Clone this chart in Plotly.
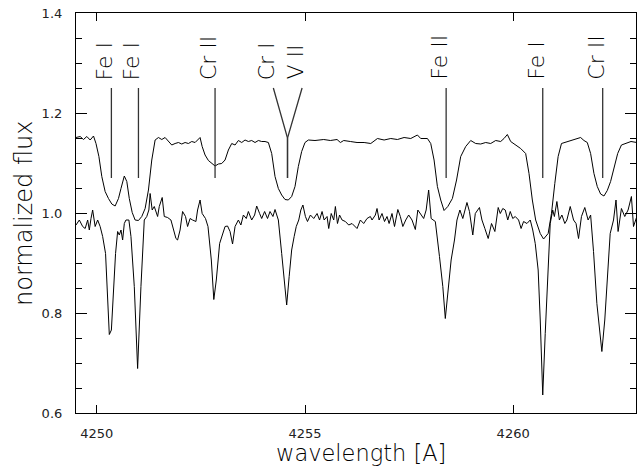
import plotly.graph_objects as go

# ---- lower (observed, noisy) spectrum ----
obs_wave = [4249.50, 4249.58, 4249.66, 4249.72, 4249.78, 4249.82, 4249.86, 4249.90, 4249.96, 4250.02,
            4250.08, 4250.14, 4250.21, 4250.26, 4250.30, 4250.35, 4250.40, 4250.45, 4250.50, 4250.54,
            4250.58, 4250.62, 4250.66, 4250.70, 4250.77, 4250.82, 4250.90, 4250.98, 4251.06, 4251.14,
            4251.20, 4251.25, 4251.28, 4251.33, 4251.38, 4251.42, 4251.46, 4251.50, 4251.57, 4251.62,
            4251.70, 4251.78, 4251.84, 4251.90, 4251.94, 4252.00, 4252.06, 4252.13, 4252.18, 4252.24,
            4252.30, 4252.38, 4252.42, 4252.48, 4252.53, 4252.61, 4252.67, 4252.75, 4252.81, 4252.87,
            4252.95, 4253.03, 4253.08, 4253.14, 4253.20, 4253.26, 4253.32, 4253.40, 4253.46, 4253.52,
            4253.59, 4253.64, 4253.72, 4253.79, 4253.84, 4253.91, 4253.96, 4254.03, 4254.10, 4254.16,
            4254.23, 4254.28, 4254.36, 4254.44, 4254.51, 4254.56, 4254.62, 4254.68, 4254.74, 4254.79,
            4254.85, 4254.90, 4254.95, 4255.01, 4255.06, 4255.13, 4255.21, 4255.29, 4255.35, 4255.41,
            4255.46, 4255.53, 4255.57, 4255.63, 4255.69, 4255.73, 4255.78, 4255.83, 4255.89, 4255.97,
            4256.05, 4256.13, 4256.25, 4256.33, 4256.41, 4256.49, 4256.57, 4256.61, 4256.69, 4256.73,
            4256.78, 4256.85, 4256.91, 4256.97, 4257.02, 4257.09, 4257.15, 4257.23, 4257.29, 4257.35,
            4257.42, 4257.49, 4257.57, 4257.65, 4257.71, 4257.77, 4257.85, 4257.91, 4257.97, 4258.03,
            4258.13, 4258.23, 4258.31, 4258.37, 4258.43, 4258.51, 4258.59, 4258.65, 4258.72, 4258.79,
            4258.89, 4258.95, 4259.03, 4259.09, 4259.19, 4259.25, 4259.32, 4259.40, 4259.48, 4259.56,
            4259.64, 4259.69, 4259.75, 4259.81, 4259.87, 4259.93, 4259.99, 4260.05, 4260.13, 4260.19,
            4260.25, 4260.33, 4260.41, 4260.47, 4260.53, 4260.60, 4260.65, 4260.71, 4260.77, 4260.83,
            4260.89, 4260.95, 4260.99, 4261.05, 4261.11, 4261.17, 4261.24, 4261.29, 4261.37, 4261.45,
            4261.51, 4261.57, 4261.64, 4261.72, 4261.80, 4261.86, 4261.93, 4262.01, 4262.08, 4262.13,
            4262.20, 4262.25, 4262.33, 4262.41, 4262.47, 4262.52, 4262.60, 4262.68, 4262.76, 4262.84,
            4262.89, 4262.97]
obs_flux = [0.976, 0.986, 0.973, 0.969, 0.986, 0.966, 0.989, 1.006, 0.973, 0.986,
            0.973, 0.953, 0.919, 0.839, 0.757, 0.766, 0.853, 0.919, 0.963, 0.956,
            0.966, 0.946, 0.979, 0.986, 0.986, 0.953, 0.853, 0.689, 0.853, 0.986,
            0.993, 1.006, 1.039, 1.006, 1.013, 1.003, 0.993, 1.013, 1.031, 0.993,
            0.991, 0.986, 0.966, 0.949, 0.946, 0.966, 1.003, 0.993, 0.973, 0.989,
            0.986, 0.983, 1.006, 1.026, 0.999, 0.989, 0.973, 0.906, 0.827, 0.866,
            0.939, 0.959, 0.973, 0.974, 0.963, 0.938, 0.973, 0.986, 0.976, 0.996,
            0.989, 1.003, 0.986, 0.996, 1.014, 0.999, 0.989, 1.003, 0.989, 1.003,
            0.993, 1.007, 0.986, 0.919, 0.866, 0.816, 0.873, 0.926, 0.953, 0.973,
            0.986, 1.006, 1.016, 0.993, 0.983, 0.996, 0.989, 0.999, 0.986, 1.003,
            0.986, 0.993, 0.969, 0.999, 0.986, 1.013, 0.979, 0.996, 0.986, 0.983,
            0.976, 0.979, 0.969, 0.986, 0.979, 0.989, 0.993, 0.986, 0.996, 1.009,
            0.986, 0.999, 0.983, 0.993, 0.979, 0.999, 0.973, 1.007, 0.993, 0.973,
            0.986, 0.996, 0.986, 0.967, 1.006, 0.999, 0.989, 1.006, 1.046, 0.989,
            0.983, 0.913, 0.853, 0.789, 0.846, 0.906, 0.946, 0.986, 1.006, 0.989,
            1.021, 1.003, 0.956, 0.999, 1.011, 0.986, 0.969, 0.949, 0.979, 0.963,
            1.011, 0.999, 1.009, 1.006, 0.986, 1.003, 0.989, 0.993, 0.986, 0.969,
            0.983, 0.979, 0.986, 0.966, 0.939, 0.886, 0.786, 0.636, 0.759, 0.873,
            0.979, 1.006, 0.993, 1.023, 0.986, 0.996, 0.979, 0.986, 1.013, 0.986,
            0.979, 0.949, 0.993, 1.011, 0.986, 0.996, 0.923, 0.819, 0.766, 0.723,
            0.786, 0.859, 0.959, 0.986, 1.026, 0.963, 1.009, 0.993, 1.006, 1.033,
            0.973, 0.993]

# ---- upper (shifted, smoothed) spectrum ----
syn_wave = [4249.50, 4249.60, 4249.68, 4249.76, 4249.84, 4249.92, 4249.98, 4250.05, 4250.12, 4250.20,
            4250.28, 4250.36, 4250.44, 4250.52, 4250.58, 4250.66, 4250.72, 4250.78, 4250.85, 4250.92,
            4251.00, 4251.08, 4251.16, 4251.24, 4251.32, 4251.40, 4251.48, 4251.56, 4251.64, 4251.72,
            4251.80, 4251.88, 4251.96, 4252.04, 4252.12, 4252.20, 4252.28, 4252.36, 4252.44, 4252.48,
            4252.53, 4252.60, 4252.68, 4252.76, 4252.84, 4252.92, 4253.00, 4253.08, 4253.16, 4253.24,
            4253.32, 4253.40, 4253.48, 4253.56, 4253.64, 4253.72, 4253.80, 4253.88, 4253.96, 4254.04,
            4254.12, 4254.20, 4254.28, 4254.36, 4254.44, 4254.52, 4254.60, 4254.68, 4254.76, 4254.84,
            4254.92, 4255.00, 4255.08, 4255.24, 4255.37, 4255.45, 4255.61, 4255.77, 4255.85, 4255.93,
            4256.09, 4256.25, 4256.42, 4256.58, 4256.74, 4256.90, 4257.06, 4257.22, 4257.38, 4257.54,
            4257.70, 4257.78, 4257.94, 4258.02, 4258.10, 4258.18, 4258.26, 4258.34, 4258.43, 4258.54,
            4258.64, 4258.74, 4258.86, 4258.98, 4259.10, 4259.22, 4259.34, 4259.46, 4259.58, 4259.70,
            4259.78, 4259.86, 4259.94, 4260.06, 4260.18, 4260.30, 4260.38, 4260.46, 4260.54, 4260.65,
            4260.73, 4260.84, 4260.92, 4261.00, 4261.08, 4261.16, 4261.30, 4261.46, 4261.62, 4261.70,
            4261.78, 4261.86, 4261.94, 4262.02, 4262.10, 4262.18, 4262.26, 4262.34, 4262.42, 4262.51,
            4262.60, 4262.71, 4262.83, 4262.97]
syn_flux = [1.151, 1.153, 1.147, 1.153, 1.146, 1.154, 1.139, 1.113, 1.073, 1.043,
            1.029, 1.018, 1.014, 1.029, 1.049, 1.074, 1.063, 1.029, 1.001, 0.986,
            0.985, 0.993, 1.009, 1.046, 1.106, 1.146, 1.151, 1.147, 1.151, 1.143,
            1.136, 1.139, 1.141, 1.138, 1.141, 1.139, 1.143, 1.141, 1.147, 1.151,
            1.133, 1.116, 1.105, 1.099, 1.094, 1.098, 1.099, 1.106, 1.126, 1.139,
            1.136, 1.145, 1.141, 1.146, 1.143, 1.145, 1.141, 1.145, 1.143, 1.143,
            1.141, 1.119, 1.073, 1.049, 1.036, 1.027, 1.026, 1.033, 1.053, 1.093,
            1.123, 1.141, 1.146, 1.145, 1.146, 1.147, 1.145, 1.147, 1.141, 1.145,
            1.143, 1.141, 1.141, 1.139, 1.149, 1.146, 1.149, 1.147, 1.151, 1.149,
            1.156, 1.149, 1.149, 1.139, 1.106, 1.053, 1.026, 1.005, 1.013, 1.029,
            1.066, 1.113, 1.133, 1.145, 1.139, 1.138, 1.141, 1.139, 1.145, 1.143,
            1.149, 1.157, 1.143, 1.136, 1.129, 1.119, 1.079, 1.026, 0.986, 0.959,
            0.948, 0.959, 0.999, 1.059, 1.113, 1.139, 1.143, 1.146, 1.151, 1.145,
            1.141, 1.119, 1.079, 1.053, 1.038, 1.034, 1.045, 1.063, 1.089, 1.119,
            1.136, 1.139, 1.143, 1.141]

# ---- line identifications ----
line_labels = ["Fe I", "Fe I", "Cr II", "Cr I", "V II", "Fe II", "Fe I", "Cr II"]
line_waves = [4250.35, 4251.00, 4252.84, 4254.58, 4254.58, 4258.39, 4260.71, 4262.15]
label_waves = [4250.35, 4251.00, 4252.84, 4254.24, 4254.93, 4258.39, 4260.71, 4262.15]
mark_low = 1.07
mark_knee = 1.15
mark_top = 1.25
label_base = 1.262

x_range = [4249.5, 4262.95]
y_range = [0.6, 1.4]
x_ticks = [4250, 4255, 4260]
y_ticks = [0.6, 0.8, 1.0, 1.2, 1.4]

FONT = "DejaVu Sans"
TXT = "black"

fig = go.Figure()
fig.add_trace(go.Scatter(x=syn_wave, y=syn_flux, mode="lines",
                         line=dict(color="black", width=1), hoverinfo="skip"))
fig.add_trace(go.Scatter(x=obs_wave, y=obs_flux, mode="lines",
                         line=dict(color="black", width=1), hoverinfo="skip"))

mx, my = [], []
for lw, aw in zip(line_waves, label_waves):
    if abs(lw - aw) < 1e-6:
        mx += [lw, lw, None]
        my += [mark_low, mark_top, None]
    else:
        mx += [lw, lw, aw, None]
        my += [mark_low, mark_knee, mark_top, None]
fig.add_trace(go.Scatter(x=mx, y=my, mode="lines",
                         line=dict(color="#333333", width=1.3), hoverinfo="skip"))

for lab, aw in zip(line_labels, label_waves):
    fig.add_annotation(x=aw, y=label_base, xref="x", yref="y", text=lab,
                       textangle=-90, showarrow=False, xanchor="center", yanchor="bottom",
                       xshift=-7, font=dict(family=FONT, size=22, color=TXT, weight=200))

# axis titles
fig.add_annotation(x=0.5, y=0, xref="paper", yref="paper", text="wavelength [A]",
                   showarrow=False, xanchor="center", yanchor="middle", yshift=-40, xshift=5,
                   font=dict(family=FONT, size=22.5, color=TXT, weight=200))
fig.add_annotation(x=0, y=0.5, xref="paper", yref="paper", text="normalized flux",
                   textangle=-90, showarrow=False, xanchor="center", yanchor="middle", xshift=-52,
                   font=dict(family=FONT, size=24, color=TXT, weight=200))

fig.update_layout(
    width=637, height=468,
    margin=dict(l=76, r=1, t=13, b=55, autoexpand=False),
    paper_bgcolor="white", plot_bgcolor="white",
    showlegend=False,
    font=dict(family=FONT, color="black"),
)
fig.update_xaxes(range=x_range, tickmode="array", tickvals=x_ticks,
                 ticktext=[str(t) for t in x_ticks], automargin=False,
                 ticks="inside", ticklen=8, tickwidth=1, tickcolor="black",
                 showline=True, linecolor="black", linewidth=1.2, mirror="ticks",
                 showgrid=False, zeroline=False,
                 tickfont=dict(family=FONT, size=13, color="#222222"), ticklabelstandoff=8)
fig.update_yaxes(range=y_range, tickmode="array", tickvals=y_ticks,
                 ticktext=["%.1f" % t for t in y_ticks], automargin=False,
                 ticks="inside", ticklen=11, tickwidth=1, tickcolor="black",
                 minor=dict(dtick=0.05, ticks="inside", ticklen=6, tickwidth=1, tickcolor="black", showgrid=False),
                 showline=True, linecolor="black", linewidth=1.2, mirror="ticks",
                 showgrid=False, zeroline=False,
                 tickfont=dict(family=FONT, size=13, color="#222222"), ticklabelstandoff=10)

fig.write_html("out.html", config={"displayModeBar": False},
               post_script="document.body.style.margin='0';document.body.style.padding='0';document.body.style.overflow='hidden';")
